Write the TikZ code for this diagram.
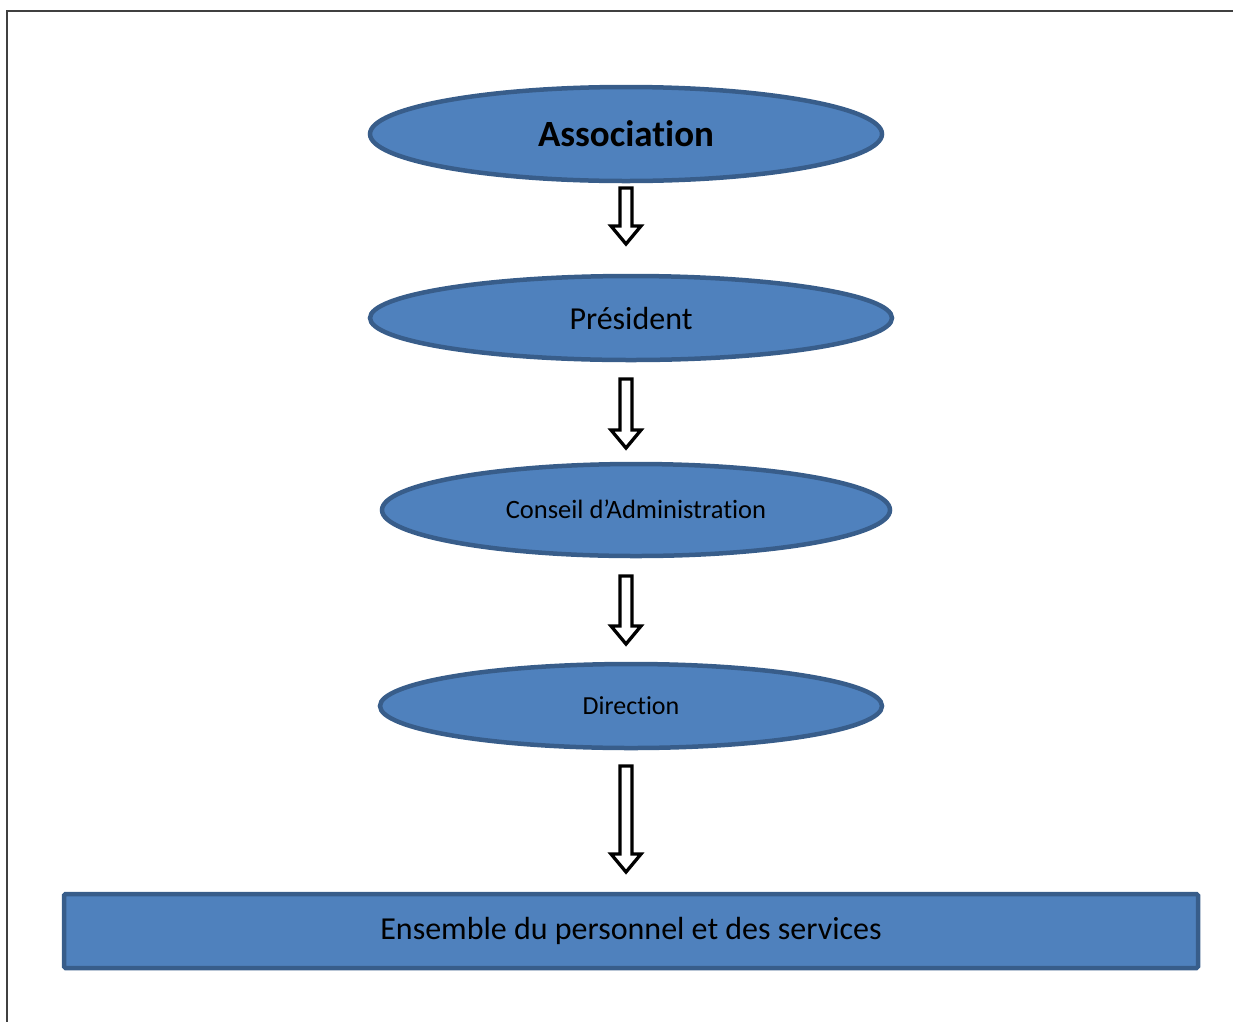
\documentclass[tikz,border=0pt]{standalone}
\usepackage{fontspec}
\setmainfont[Ligatures=NoCommon]{Carlito}
\usetikzlibrary{shapes.geometric}
\definecolor{fillblue}{HTML}{4F81BD}
\definecolor{edgeblue}{HTML}{385D8A}
\tikzset{
  oval/.style={ellipse, draw=edgeblue, fill=fillblue, line width=4.5pt, inner sep=0pt},
  bar/.style={rectangle, draw=edgeblue, fill=fillblue, line width=4.5pt, inner sep=0pt, rounded corners=1.5pt},
  hollowarrow/.style={draw=black, fill=white, line width=3.3pt, line join=miter}
}
\newcommand{\blockarrow}[3]{% x, ytop, ytip
  \draw[hollowarrow] (#1-6,#2) -- (#1+6,#2) -- (#1+6,#3-18) -- (#1+15,#3-18) -- (#1,#3) -- (#1-15,#3-18) -- (#1-6,#3-18) -- cycle;
}
\begin{document}
\begin{tikzpicture}[x=1pt,y=-1pt]
\useasboundingbox (0,0) rectangle (1233,1021);
\draw[line width=2pt, black!75] (7,1030) -- (7,11) -- (1240,11);

\node[oval, minimum width=512pt, minimum height=94pt] (assoc) at (626,134) {\raisebox{-3pt}{\fontsize{37}{40}\selectfont\bfseries Association}};
\node[oval, minimum width=522pt, minimum height=84pt] (pres) at (631,318) {\raisebox{-2pt}{\fontsize{32}{36}\selectfont Président}};
\node[oval, minimum width=508pt, minimum height=92pt] (ca) at (636,510) {\raisebox{2pt}{\fontsize{26.5}{30}\selectfont Conseil d’Administration}};
\node[oval, minimum width=502pt, minimum height=84pt] (dir) at (631,706) {\fontsize{26}{30}\selectfont Direction};
\node[bar, minimum width=1134pt, minimum height=74pt] (ens) at (631,931) {\fontsize{32}{36}\selectfont Ensemble du personnel et des services};

\blockarrow{626}{188}{244}
\blockarrow{626}{379}{448}
\blockarrow{626}{576}{644}
\blockarrow{626}{766}{872}
\end{tikzpicture}
\end{document}
